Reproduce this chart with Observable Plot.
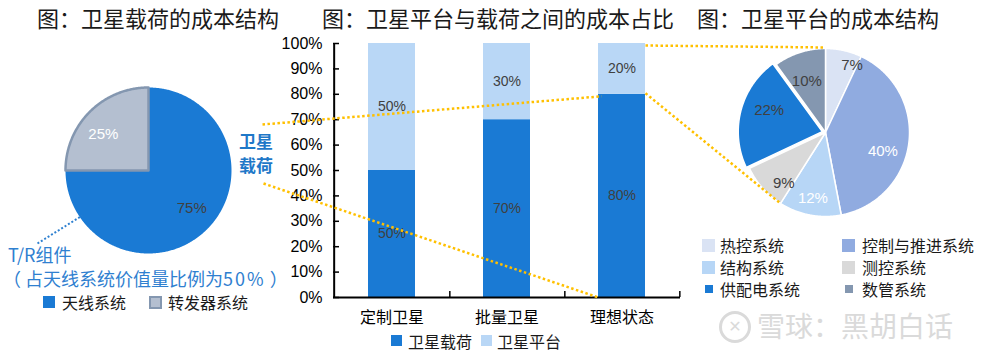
<!DOCTYPE html>
<html><head><meta charset="utf-8">
<script src="https://cdn.jsdelivr.net/npm/d3@7"></script>
<script src="https://cdn.jsdelivr.net/npm/@observablehq/plot@0.6"></script>
<style>
body{margin:0;background:#fff;}
#wrap{position:relative;width:986px;height:357px;overflow:hidden;font-family:"Noto Sans CJK SC","Noto Sans",sans-serif;}
.abs{position:absolute;white-space:nowrap;}
.title{font-size:22px;line-height:22px;color:#1a1a1a;}
.leg{font-size:16px;line-height:16px;color:#1a1a1a;}
svg.abs{overflow:visible;}
</style></head><body><div id="wrap"></div>
<script>
// ---------- data ----------
const payloadNames = ["天线系统", "转发器系统"];
const payloadValues = [75, 25];
const categories = ["定制卫星", "批量卫星", "理想状态"];
const seriesNames = ["卫星载荷", "卫星平台"];
const payloadShare = [50, 70, 80];
const platformShare = [50, 30, 20];
const yTicks = [0, 10, 20, 30, 40, 50, 60, 70, 80, 90, 100];
const platformNames = ["热控系统", "控制与推进系统", "结构系统", "测控系统", "供配电系统", "数管系统"];
const platformValues = [7, 40, 12, 9, 22, 10];
const titles = ["图：卫星载荷的成本结构", "图：卫星平台与载荷之间的成本占比", "图：卫星平台的成本结构"];

// ---------- styles ----------
const BLUE = "#1a7ad4", LIGHT = "#b9d7f6";
const payloadColors = [BLUE, "#b4bfd0"];
const seriesColors = [BLUE, LIGHT];
const platformColors = ["#dae3f4", "#90abe0", "#b7d6f6", "#d9d9d9", BLUE, "#8497b0"];
const NUMFONT = '"Liberation Sans","Noto Sans CJK SC",sans-serif';
// label placement style (radius as fraction of pie radius, turn in degrees from slice middle)
const leftLabelR = [0.69, 0.70], leftLabelTurn = [-4, -6];
const rightLabelR = [0.86, 0.72, 0.80, 0.78, 0.72, 0.65], rightLabelTurn = [9, 11, 0, -9, 7, -2];

const wrap = document.getElementById("wrap");
function place(el, left, top) { el.classList.add("abs"); el.style.left = left + "px"; el.style.top = top + "px"; wrap.appendChild(el); return el; }
function div(html, cls, left, top, css = {}) { const d = document.createElement("div"); d.className = cls || ""; d.innerHTML = html; Object.assign(d.style, css); return place(d, left, top); }
function square(left, top, size, color, css = {}) { return div("", "", left, top, Object.assign({width: size + "px", height: size + "px", background: color, boxSizing: "border-box"}, css)); }

// titles
[37, 322, 697].forEach((x, i) => div(titles[i], "title", x, 6));

// ---------- pie helper ----------
function pieParts(names, values, explode = {}) {
  const total = d3.sum(values); let a0 = 0; const pts = [], labels = [];
  names.forEach((name, i) => {
    const a1 = a0 + values[i] / total * 2 * Math.PI, mid = (a0 + a1) / 2;
    const e = explode[name] || 0, ox = e * Math.sin(mid), oy = e * Math.cos(mid);
    pts.push({name, x: ox, y: oy});
    const n = Math.max(4, Math.ceil((a1 - a0) / 0.01));
    for (let j = 0; j <= n; j++) { const a = a0 + (a1 - a0) * j / n; pts.push({name, x: ox + Math.sin(a), y: oy + Math.cos(a)}); }
    labels.push({name, i, value: values[i], mid, a0, a1});
    a0 = a1;
  });
  return {pts, labels};
}
function piePlot({names, values, colors, rPx, halfPx, explode, sliceStroke, sliceStrokeWidth, extra = [], white, labR, labTurn}) {
  const k = halfPx / rPx;
  const parts = pieParts(names, values, explode);
  const lab = parts.labels;
  const ang = d => d.mid + labTurn[d.i] * Math.PI / 180;
  const lx = d => labR[d.i] * Math.sin(ang(d)), ly = d => labR[d.i] * Math.cos(ang(d));
  const marks = [
    Plot.line(parts.pts, {x: "x", y: "y", z: "name", fill: "name", stroke: sliceStroke || "none", strokeWidth: sliceStrokeWidth || 0, curve: "linear-closed"}),
    ...extra.map(f => f(parts.pts)),
    Plot.text(lab, {filter: d => !white.includes(d.name), x: lx, y: ly, text: d => d.value + "%", fill: "#404040", fontSize: 15}),
    Plot.text(lab, {filter: d => white.includes(d.name), x: lx, y: ly, text: d => d.value + "%", fill: "#ffffff", fontSize: 15})
  ];
  return Plot.plot({
    width: 2 * halfPx, height: 2 * halfPx, margin: 0,
    x: {domain: [-k, k], axis: null}, y: {domain: [-k, k], axis: null},
    color: {domain: names, range: colors},
    style: {fontFamily: NUMFONT, background: "transparent", overflow: "visible"},
    marks
  });
}

// ---------- left pie ----------
const LP = {cx: 148, cy: 170, r: 83, half: 90};
const leftPie = piePlot({
  names: payloadNames, values: payloadValues, colors: payloadColors, rPx: LP.r, halfPx: LP.half,
  extra: [pts => Plot.line(pts, {filter: d => d.name === payloadNames[1], x: "x", y: "y", z: "name", stroke: "#8497b0", strokeWidth: 2.5, fill: "none", curve: "linear-closed"})],
  white: [payloadNames[1]], labR: leftLabelR, labTurn: leftLabelTurn
});
place(leftPie, LP.cx - LP.half, LP.cy - LP.half);

const blueLabel = {fontSize: "17px", lineHeight: "20px", height: "20px", fontWeight: "bold", color: "#1f78c8"};
div("卫星", "", 239, 131, blueLabel);
div("载荷", "", 239, 155, blueLabel);
const trStyle = {fontSize: "18px", lineHeight: "21px", height: "21px", color: "#2f80d0"};
div("T/R组件", "", 8, 244, trStyle);
div("（ 占天线系统价值量比例为<span style=\"letter-spacing:2px\">50%</span> ）", "", 3, 268, trStyle);

// left legend
square(43, 296, 12, payloadColors[0]);
div(payloadNames[0], "leg", 62, 294);
square(149, 296, 13, payloadColors[1], {border: "2px solid #8497b0"});
div(payloadNames[1], "leg", 168, 294);

// ---------- bar chart ----------
const BP = {left: 280, top: 30, width: 410, height: 300, ml: 53, mr: 10, mt: 13, mb: 33};
const innerW = BP.width - BP.ml - BP.mr, innerH = BP.height - BP.mt - BP.mb;
const step = innerW / categories.length;
const rows = categories.flatMap((c, i) => [
  {cat: c, s: seriesNames[0], v: payloadShare[i]},
  {cat: c, s: seriesNames[1], v: platformShare[i]}
]);
const bar = Plot.plot({
  width: BP.width, height: BP.height,
  marginLeft: BP.ml, marginRight: BP.mr, marginTop: BP.mt, marginBottom: BP.mb,
  x: {domain: categories, paddingInner: 0.594, paddingOuter: 0.297, tickSize: 0, tickPadding: 14, label: null},
  y: {domain: [0, 100], ticks: yTicks, tickFormat: d => d + "%", tickSize: 0, tickPadding: 11, label: null},
  color: {domain: seriesNames, range: seriesColors},
  style: {fontFamily: NUMFONT, fontSize: "16px", color: "#000", background: "transparent", overflow: "visible"},
  marks: [
    Plot.barY(rows, {x: "cat", y: "v", fill: "s"}),
    Plot.text(rows, Plot.stackY({x: "cat", y: "v", text: d => d.v + "%", fill: "#404040", fontSize: 14})),
    Plot.ruleY(yTicks, {insetRight: innerW - 6, strokeWidth: 1.5}),
    Plot.ruleX(categories, {y1: 0, y2: 6 * 100 / innerH, dx: step / 2, strokeWidth: 1.5}),
    Plot.ruleY([0], {strokeWidth: 2}),
    Plot.ruleX([categories[0]], {y1: 0, y2: 100, dx: -step / 2, strokeWidth: 2})
  ]
});
place(bar, BP.left, BP.top);

// bar legend
square(391, 335, 11, seriesColors[0]);
div(seriesNames[0], "leg", 408, 333);
square(481, 335, 11, seriesColors[1]);
div(seriesNames[1], "leg", 497, 333);

// ---------- right pie ----------
const RP = {cx: 825, cy: 132, r: 84, half: 92};
const rightPie = piePlot({
  names: platformNames, values: platformValues, colors: platformColors, rPx: RP.r, halfPx: RP.half,
  explode: {"供配电系统": 0.04}, sliceStroke: "#ffffff", sliceStrokeWidth: 1.5,
  white: ["控制与推进系统", "结构系统"], labR: rightLabelR, labTurn: rightLabelTurn
});
place(rightPie, RP.cx - RP.half, RP.cy - RP.half);

// right legend
platformNames.forEach((n, i) => {
  const col = i % 2, row = Math.floor(i / 2);
  const cy = [245, 267, 289][row];
  const sx = col ? 842 : 702, tx = col ? 862 : 720;
  const sz = row === 2 ? 8 : 13;
  square(sx + (13 - sz) / 2, cy - sz / 2, sz, platformColors[i]);
  div(n, "leg", tx, cy - 8, {height: "16px"});
});

// watermark
div("✕", "", 719, 311, {width: "26px", height: "26px", border: "3px solid #dadada", borderRadius: "50%", color: "#dadada", fontFamily: "DejaVu Sans", fontSize: "16px", lineHeight: "26px", textAlign: "center", fontWeight: "bold"});
div("雪球：黑胡白话", "", 757, 310, {fontSize: "28px", lineHeight: "30px", color: "#dadada"});

// ---------- connector lines ----------
const xs = bar.scale("x"), ys = bar.scale("y");
const bx0 = BP.left + xs.apply(categories[2]), bx1 = bx0 + xs.bandwidth;
const by = v => BP.top + ys.apply(v);
const pieEdge = (P, frac, rr = 1) => { const a = frac * 2 * Math.PI; return [P.cx + P.r * rr * Math.sin(a), P.cy - P.r * rr * Math.cos(a)]; };
const cut = (platformValues[0] + platformValues[1] + platformValues[2]) / 100;
const top0 = pieEdge(RP, 0), cutPt = pieEdge(RP, cut);
const links = [
  {x1: 262, y1: 124, x2: bx0 + 3, y2: by(payloadShare[2]) + 2},
  {x1: 263, y1: 183, x2: bx0, y2: by(0)},
  {x1: bx1, y1: by(100) + 2, x2: top0[0], y2: top0[1] - 1},
  {x1: bx1, y1: by(payloadShare[2]) - 1, x2: cutPt[0], y2: cutPt[1]}
];
const tr = pieEdge(LP, 0.655, 0.97);
const blueLinks = [{x1: 37, y1: 243, x2: tr[0], y2: tr[1]}];
const overlay = Plot.plot({
  width: 986, height: 357, margin: 0,
  x: {type: "identity", axis: null}, y: {type: "identity", axis: null},
  style: {background: "transparent", overflow: "visible"},
  marks: [
    Plot.link(links, {x1: "x1", y1: "y1", x2: "x2", y2: "y2", stroke: "#ffc000", strokeWidth: 2.5, strokeDasharray: "2.5 2.5"}),
    Plot.link(blueLinks, {x1: "x1", y1: "y1", x2: "x2", y2: "y2", stroke: "#2f80d0", strokeWidth: 2, strokeDasharray: "2 2"})
  ]
});
overlay.style.pointerEvents = "none";
place(overlay, 0, 0);
</script></body></html>
